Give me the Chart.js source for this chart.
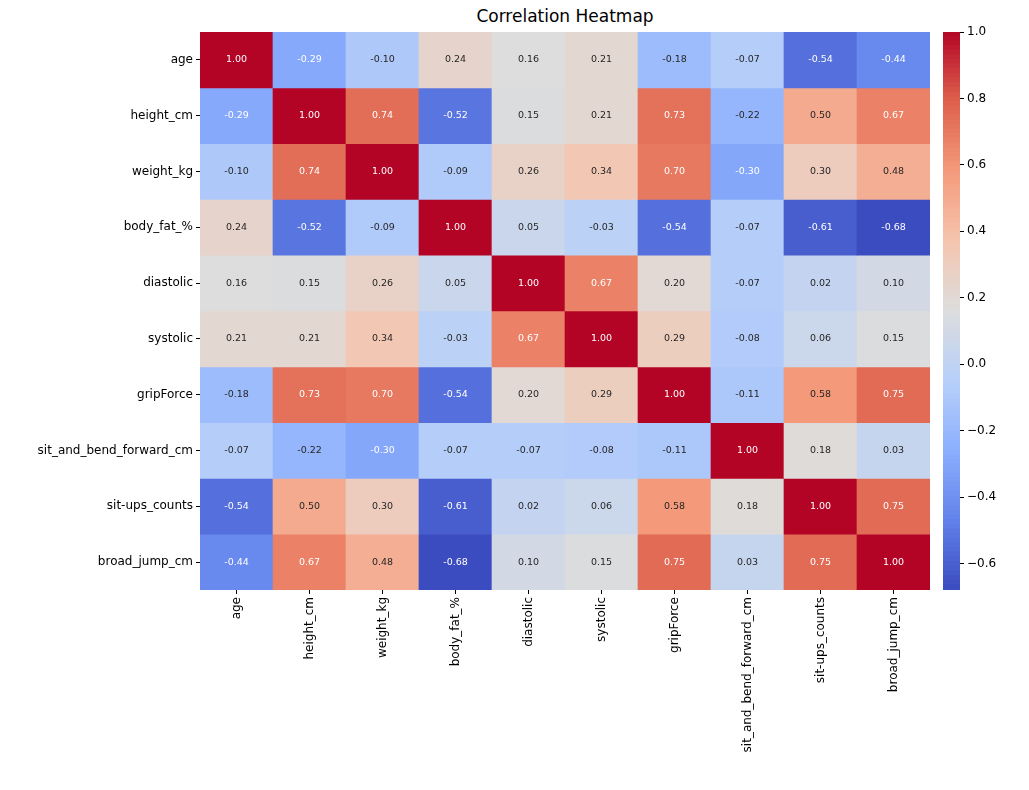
<!DOCTYPE html>
<html>
<head>
<meta charset="utf-8">
<script src="https://cdn.jsdelivr.net/npm/chart.js@4"></script>
<style>
  body { margin: 0; background: #fff; font-family: "DejaVu Sans", sans-serif; }
  #title { position: absolute; left: 200px; width: 730px; top: 6px; text-align: center; font-size: 17px; color: #000; }
  #main { position: absolute; left: 0; top: 0; width: 930px; height: 790px; }
  #bar { position: absolute; left: 930px; top: 0; width: 99px; height: 790px; }
</style>
</head>
<body>
<div id="title">Correlation Heatmap</div>
<div id="main"><canvas id="heat"></canvas></div>
<div id="bar"><canvas id="cbar"></canvas></div>
<script>
// --- Data ---------------------------------------------------------------
const names = ['age', 'height_cm', 'weight_kg', 'body_fat_%', 'diastolic', 'systolic',
    'gripForce', 'sit_and_bend_forward_cm', 'sit-ups_counts', 'broad_jump_cm']

const corr = [
    [1.00, -0.29, -0.10, 0.24, 0.16, 0.21, -0.18, -0.07, -0.54, -0.44],
    [-0.29, 1.00, 0.74, -0.52, 0.15, 0.21, 0.73, -0.22, 0.50, 0.67],
    [-0.10, 0.74, 1.00, -0.09, 0.26, 0.34, 0.70, -0.30, 0.30, 0.48],
    [0.24, -0.52, -0.09, 1.00, 0.05, -0.03, -0.54, -0.07, -0.61, -0.68],
    [0.16, 0.15, 0.26, 0.05, 1.00, 0.67, 0.20, -0.07, 0.02, 0.10],
    [0.21, 0.21, 0.34, -0.03, 0.67, 1.00, 0.29, -0.08, 0.06, 0.15],
    [-0.18, 0.73, 0.70, -0.54, 0.20, 0.29, 1.00, -0.11, 0.58, 0.75],
    [-0.07, -0.22, -0.30, -0.07, -0.07, -0.08, -0.11, 1.00, 0.18, 0.03],
    [-0.54, 0.50, 0.30, -0.61, 0.02, 0.06, 0.58, 0.18, 1.00, 0.75],
    [-0.44, 0.67, 0.48, -0.68, 0.10, 0.15, 0.75, 0.03, 0.75, 1.00]
]

const vmin = -0.68, vmax = 1.0

// --- Colour map (coolwarm) ------------------------------------------------
const stops = [
    [59, 76, 192], [98, 130, 234], [141, 176, 254], [184, 208, 249], [221, 221, 221],
    [245, 196, 173], [244, 154, 123], [222, 96, 77], [180, 4, 38]
]

function rgbFor(v) {
    let t = Math.min(1, Math.max(0, (v - vmin) / (vmax - vmin))) * (stops.length - 1)
    const i = Math.min(stops.length - 2, Math.floor(t))
    const f = t - i
    return stops[i].map((c, k) => Math.round(c + (stops[i + 1][k] - c) * f))
}

function colorFor(v) {
    const c = rgbFor(v)
    return `rgb(${c[0]},${c[1]},${c[2]})`
}

function textColorFor(v) {
    // same rule as seaborn: relative luminance
    const lin = rgbFor(v).map(c => {
        c = c / 255
        return c <= 0.03928 ? c / 12.92 : Math.pow((c + 0.055) / 1.055, 2.4)
    })
    const lum = 0.2126 * lin[0] + 0.7152 * lin[1] + 0.0722 * lin[2]
    return lum > 0.408 ? '#262626' : '#ffffff'
}

// --- Heatmap ---------------------------------------------------------------
const cellLabels = {
    id: 'cellLabels',
    afterDatasetsDraw(chart) {
        const ctx = chart.ctx
        ctx.save()
        ctx.font = '9.5px "DejaVu Sans"'
        ctx.textAlign = 'center'
        ctx.textBaseline = 'middle'
        chart.data.datasets.forEach((ds, r) => {
            chart.getDatasetMeta(r).data.forEach((bar, c) => {
                const v = corr[r][c]
                ctx.fillStyle = textColorFor(v)
                ctx.fillText(v.toFixed(2), bar.x, (bar.y + bar.base) / 2)
            })
        })
        ctx.restore()
    }
}

const heatDatasets = corr.map((row, r) => ({
    label: names[r],
    data: row.map(() => 1),
    backgroundColor: row.map(colorFor),
    borderWidth: 0,
    barPercentage: 1,
    categoryPercentage: 1
}))

const tickGrid = { display: true, drawOnChartArea: false, drawTicks: true, tickLength: 4, color: '#000', offset: false }

new Chart(document.getElementById('heat'), {
    type: 'bar',
    data: { labels: names, datasets: heatDatasets },
    options: {
        responsive: true,
        maintainAspectRatio: false,
        animation: false,
        layout: { padding: { top: 32 } },
        plugins: { legend: { display: false }, tooltip: { enabled: false } },
        scales: {
            x: {
                stacked: true,
                grid: tickGrid,
                border: { display: false },
                ticks: { color: '#000', font: { size: 12, family: 'DejaVu Sans' }, minRotation: 90, maxRotation: 90, autoSkip: false },
                afterFit(scale) { scale.height = 200 }
            },
            y: {
                stacked: true,
                reverse: true,
                min: 0,
                max: 10,
                grid: tickGrid,
                border: { display: false },
                afterBuildTicks(scale) { scale.ticks = names.map((n, i) => ({ value: i + 0.5 })) },
                ticks: {
                    color: '#000',
                    font: { size: 12, family: 'DejaVu Sans' },
                    callback: (v) => names[Math.floor(v)]
                },
                afterFit(scale) { scale.width = 200 }
            }
        }
    },
    plugins: [cellLabels]
})

// --- Colour bar -------------------------------------------------------------
const steps = 120
const barDatasets = []
for (let i = 0; i < steps; i++) {
    const a = vmin + (vmax - vmin) * i / steps
    const b = vmin + (vmax - vmin) * (i + 1) / steps
    barDatasets.push({
        data: [[a, b + 0.002]],
        backgroundColor: colorFor((a + b) / 2),
        borderWidth: 0,
        grouped: false,
        barPercentage: 1,
        categoryPercentage: 1
    })
}

new Chart(document.getElementById('cbar'), {
    type: 'bar',
    data: { labels: [''], datasets: barDatasets },
    options: {
        responsive: true,
        maintainAspectRatio: false,
        animation: false,
        layout: { padding: { top: 32, bottom: 200, left: 13 } },
        plugins: { legend: { display: false }, tooltip: { enabled: false } },
        scales: {
            x: { display: false },
            y: {
                position: 'right',
                min: vmin,
                max: vmax,
                grid: tickGrid,
                border: { display: false },
                afterBuildTicks(scale) {
                    scale.ticks = [-0.6, -0.4, -0.2, 0, 0.2, 0.4, 0.6, 0.8, 1.0].map(v => ({ value: v }))
                },
                ticks: {
                    color: '#000',
                    font: { size: 12, family: 'DejaVu Sans' },
                    callback: (v) => (Math.abs(v) < 1e-9 ? 0 : v).toFixed(1).replace('-', '\u2212')
                },
                afterFit(scale) { scale.width = 69 }
            }
        }
    }
})
</script>
</body>
</html>
